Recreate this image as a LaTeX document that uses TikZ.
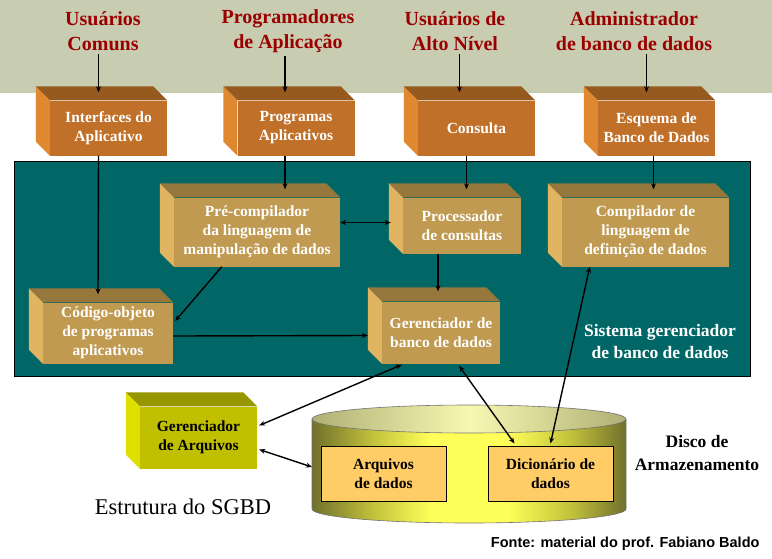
\documentclass[tikz,border=0pt]{standalone}
\usepackage{fontspec}
\setmainfont{Liberation Serif}
\newfontfamily\arialfont{Liberation Sans}
\usepackage{xcolor}
\usepackage{tikz}
\usetikzlibrary{arrows.meta, calc}

\definecolor{bandgray}{RGB}{200,204,176}
\definecolor{hdrred}{RGB}{155,0,0}
\definecolor{systeal}{RGB}{0,102,102}
\definecolor{orfront}{RGB}{192,112,40}
\definecolor{ortop}{RGB}{150,90,30}
\definecolor{orside}{RGB}{224,136,48}
\definecolor{tanfront}{RGB}{192,154,80}
\definecolor{tantop}{RGB}{150,120,60}
\definecolor{tanside}{RGB}{224,180,96}
\definecolor{yelfront}{RGB}{192,192,0}
\definecolor{yeltop}{RGB}{150,150,0}
\definecolor{yelside}{RGB}{224,224,0}
\definecolor{filebox}{RGB}{255,204,102}
\definecolor{diskdark}{RGB}{112,112,44}
\definecolor{diskmid}{RGB}{196,196,60}
\definecolor{disklight}{RGB}{255,255,90}
\definecolor{lidside}{RGB}{176,176,118}
\definecolor{lidlight}{RGB}{248,248,178}

% disk body: bright middle, dark edges
\pgfdeclarehorizontalshading{diskbody}{100bp}{color(0bp)=(diskdark); color(25bp)=(diskdark);
  color(35bp)=(diskmid); color(44bp)=(disklight); color(56bp)=(disklight);
  color(66bp)=(diskmid); color(75bp)=(diskdark); color(100bp)=(diskdark)}

\begin{document}
\begin{tikzpicture}[x=1pt, y=-1pt,
    hdr/.style={font=\fontsize{20}{25}\selectfont\bfseries, text=hdrred, align=center, inner sep=3pt},
    boxtxt/.style={font=\fontsize{15.5}{19}\selectfont\bfseries, align=center, inner sep=0pt},
    orbox/.style={boxtxt, text=white, fill=orfront, minimum width=117pt, minimum height=55pt},
    tanbox/.style={boxtxt, text=white, fill=tanfront},
    yelbox/.style={boxtxt, text=black, fill=yelfront, minimum width=117pt, minimum height=62pt},
    filebx/.style={boxtxt, text=black, fill=filebox, draw=black, line width=1pt, minimum width=125pt, minimum height=55pt},
    arr/.style={line width=1.4pt, -{Stealth[length=6pt,width=5pt]}},
    arr2/.style={line width=1.4pt, {Stealth[length=6pt,width=5pt]}-{Stealth[length=6pt,width=5pt]}}]
  \useasboundingbox (0,0) rectangle (772,558);
  \fill[white] (0,0) rectangle (772,558);
  % users band
  \fill[bandgray] (0,0) rectangle (772,93);
  \node[hdr] (usr)  at (103,31) {Usuários\\Comuns};
  \node[hdr] (prgm) at (288,31) {Programadores\\de Aplicação};
  \node[hdr] (alto) at (455,31) {Usuários de\\Alto Nível};
  \node[hdr] (adm)  at (634,31) {Administrador\\de banco de dados};
  % system area
  \fill[systeal, draw=black, line width=0.8pt] (14,161) rectangle (750,376);
  \node[font=\fontsize{17.5}{22}\selectfont\bfseries, text=white, align=center] (sgbd) at (660,342)
       {Sistema gerenciador\\de banco de dados};
  % boxes (front faces)
  \node[orbox] (iface) at (108.5,128) {Interfaces do\\Aplicativo};
  \node[orbox] (prog)  at (296,128)   {Programas\\Aplicativos};
  \node[orbox] (cons)  at (476.5,128) {Consulta};
  \node[orbox] (esq)   at (656.5,128) {Esquema de\\Banco de Dados};
  \node[tanbox, minimum width=166pt, minimum height=69pt] (precomp) at (257,232)
       {Pré-compilador\\da linguagem de\\manipulação de dados};
  \node[tanbox, minimum width=118pt, minimum height=56pt] (proc) at (462,225.5)
       {Processador\\de consultas};
  \node[tanbox, minimum width=167pt, minimum height=69pt] (comp) at (645.5,232)
       {Compilador de\\linguagem de\\definição de dados};
  \node[tanbox, minimum width=130pt, minimum height=61pt] (codigo) at (108,333)
       {Código-objeto\\de programas\\aplicativos};
  \node[tanbox, minimum width=118pt, minimum height=62pt] (gbd) at (441,332.5)
       {Gerenciador de\\banco de dados};
  \node[yelbox] (garq) at (198.5,437.5) {Gerenciador\\de Arquivos};
  % 3d faces
  \foreach \n/\tc/\sc in {iface/ortop/orside, prog/ortop/orside, cons/ortop/orside, esq/ortop/orside,
      precomp/tantop/tanside, proc/tantop/tanside, comp/tantop/tanside, codigo/tantop/tanside,
      gbd/tantop/tanside, garq/yeltop/yelside} {
    \fill[\tc] (\n.north west) -- ++(-14,-14) -- ([shift={(-14,-14)}]\n.north east) -- (\n.north east) -- cycle;
    \fill[\sc] (\n.north west) -- ++(-14,-14) -- ([shift={(-14,-14)}]\n.south west) -- (\n.south west) -- cycle;
  }
  % storage disk
  \shade[shading=diskbody]
       (312,419) -- (312,509) arc[start angle=180, end angle=360, x radius=157pt, y radius=14pt]
       -- (626,419) -- cycle;
  \shade[left color=lidside, right color=lidside, middle color=lidlight]
       (469,419) ellipse [x radius=157pt, y radius=14pt];
  \draw[black!55, line width=0.6pt] (312,419) -- (312,509) arc[start angle=180, end angle=360, x radius=157pt, y radius=14pt]
       -- (626,419);
  \draw[black!55, line width=0.6pt] (469,419) ellipse [x radius=157pt, y radius=14pt];
  \coordinate (disco) at (312,467);
  \node[filebx] (arqs) at (383.5,473.5) {Arquivos\\de dados};
  \node[filebx] (dic)  at (550.5,473.5) {Dicionário de\\dados};
  \node[font=\fontsize{17.5}{23}\selectfont\bfseries, align=center] (discolbl) at (697,453)
       {Disco de\\Armazenamento};
  % connectors
  \draw[arr] ($(usr.south -| iface.north)+(-10,0)$) -- ($(iface.north)+(-10,-8)$);
  \draw[arr] ($(prgm.south -| prog.north)+(-11,0)$) -- ($(prog.north)+(-11,-8)$);
  \draw[arr] ($(alto.south -| cons.north)+(-17,0)$) -- ($(cons.north)+(-17,-8)$);
  \draw[arr] ($(adm.south -| esq.north)+(-10,0)$) -- ($(esq.north)+(-10,-8)$);
  \draw[arr] ($(iface.south)+(-10,0)$) -- ($(codigo.north)+(-10,-8)$);
  \draw[arr] ($(prog.south)+(-11,0)$) -- ($(prog.south |- precomp.north)+(-11,-8)$);
  \draw[arr] ($(cons.south)+(-10,0)$) -- ($(cons.south |- proc.north)+(-10,-8)$);
  \draw[arr] ($(esq.south)+(-3,0)$) -- ($(esq.south |- comp.north)+(-3,-8)$);
  \draw[arr2] ($(proc.west)+(-12,-3)$) -- ($(precomp.east |- proc.west)+(0,-3)$);
  \draw[arr] ($(precomp.south west)+(48,0)$) -- ($(codigo.east)+(2,-12)$);
  \draw[arr] ($(codigo.east)+(0,3)$) -- ($(gbd.west)+(-14,3)$);
  \draw[arr] ($(proc.south)+(-24,0)$) -- ($(proc.south |- gbd.north)+(-24,-10)$);
  \draw[arr2] ($(gbd.south west)+(20,1)$) -- ($(garq.east)+(2,-12)$);
  \draw[arr2] ($(garq.east)+(2,12)$) -- (disco);
  \draw[arr2] ($(gbd.south)+(18,2)$) -- ($(dic.north)+(-36,-2)$);
  \draw[arr2] ($(dic.north)+(0,-2)$) -- ($(comp.south west)+(28,0)$);
  % captions
  \node[font=\fontsize{22.5}{26}\selectfont] (titulo) at (183,507) {Estrutura do SGBD};
  \node[font=\arialfont\fontsize{14.5}{17}\selectfont\bfseries, anchor=east] (fonte) at (763,544)
       {Fonte: material do prof. Fabiano Baldo};
\end{tikzpicture}
\end{document}
